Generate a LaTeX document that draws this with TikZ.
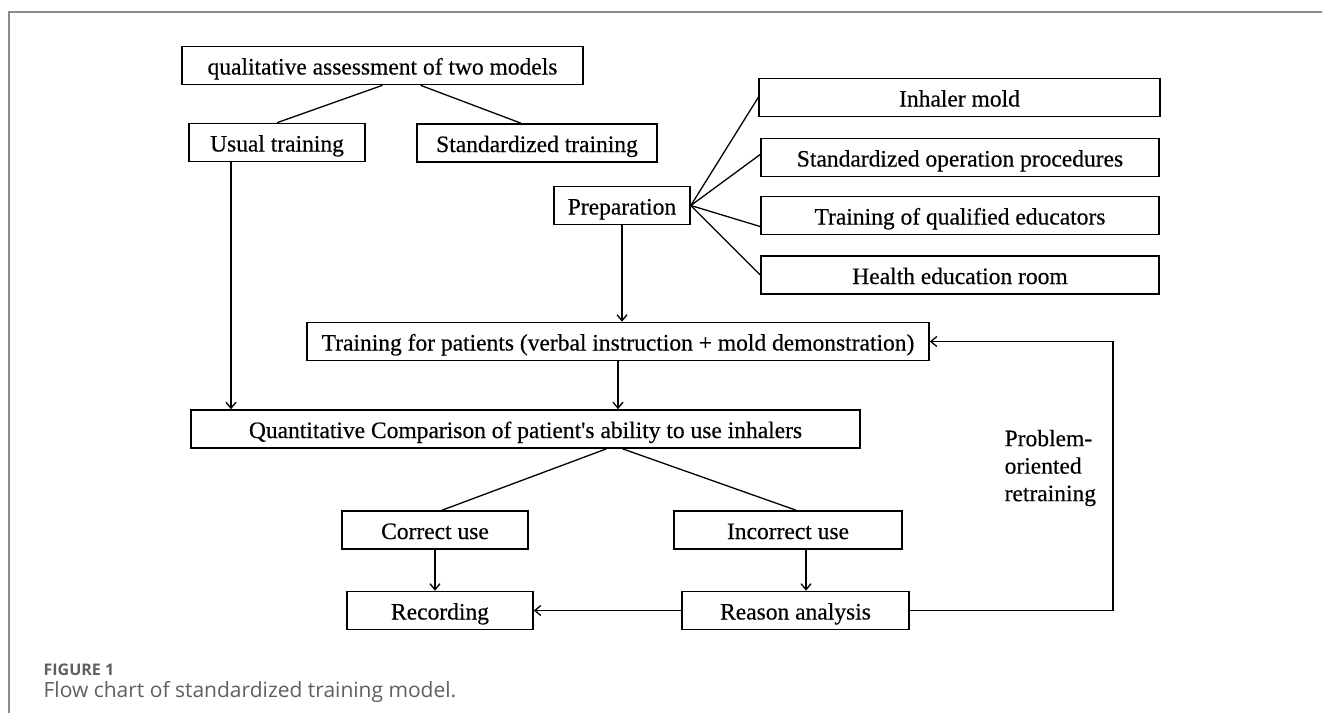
\documentclass[tikz,border=0pt]{standalone}
\usepackage{fontspec}
\setmainfont{Liberation Serif}[FakeBold=0.4]
\newfontfamily\capfont{Open Sans}
\usetikzlibrary{arrows.meta}
\definecolor{framegray}{RGB}{140,140,140}
\definecolor{capgray}{RGB}{95,95,95}

\begin{document}
\begin{tikzpicture}[->,>={Straight Barb[length=6pt,width=10pt]},x=1pt,y=-1pt,
                line width=1.3pt,box node/.style={draw,line width=1.6pt,minimum height=38pt,
                inner sep=0pt,text height=18pt,text depth=0pt,font=\fontsize{23.5}{28}\selectfont}]
  \useasboundingbox (0,0) rectangle (1322,713);
  \draw[-,framegray,line width=1.2pt] (9,713) -- (9,12) -- (1322,12);

  \node[box node,minimum width=401pt] (1) at (382.5,65.5) {qualitative assessment of two models};
  \node[box node,minimum width=176pt] (2) at (277,142.5) {Usual training};
  \node[box node,minimum width=240pt] (3) at (537,143) {Standardized training};
  \node[box node,minimum width=136pt] (4) at (622,205.5) {Preparation};
  \node[box node,minimum width=401pt] (5) at (959.5,97.5) {Inhaler mold};
  \node[box node,minimum width=398pt] (6) at (960,157.5) {Standardized operation procedures};
  \node[box node,minimum width=398pt] (7) at (960,215.5) {Training of qualified educators};
  \node[box node,minimum width=398pt] (8) at (960,275) {Health education room};
  \node[box node,minimum width=622pt] (9) at (618,341.5) {Training for patients (verbal instruction + mold demonstration)};
  \node[box node,minimum width=669pt] (10) at (525.5,429)
    {Quantitative Comparison of patient\textquotesingle s ability to use inhalers};
  \node[box node,minimum width=186pt] (11) at (435,530) {Correct use};
  \node[box node,minimum width=228pt] (12) at (788,530) {Incorrect use};
  \node[box node,minimum width=186pt] (13) at (440,610.5) {Recording};
  \node[box node,minimum width=227pt] (14) at (795.5,610.5) {Reason analysis};
  \node[align=left,anchor=west,inner sep=0pt,font=\fontsize{23.5}{27.5}\selectfont] (15) at (1004,468)
    {Problem-\\oriented\\retraining};
  \coordinate (turn) at (1113,0);

  \node[anchor=west,inner sep=0pt,text=capgray,font=\capfont\bfseries\fontsize{16}{20}\selectfont] (16) at (43,670) {FIGURE 1};
  \node[anchor=west,inner sep=0pt,text=capgray,font=\capfont\fontsize{21}{24}\selectfont] (17) at (43,692)
    {Flow chart of standardized training model.};

  \path
    (1.south) edge[-] (2.north)
    ([xshift=38pt]1.south) edge[-] ([xshift=-16pt]3.north)
    (4.east) edge[-] (5.west)
    (4.east) edge[-] ([yshift=3pt]6.west)
    (4.east) edge[-] ([yshift=-11pt]7.west)
    (4.east) edge[-] (8.west)
    ([xshift=-46pt]2.south) edge ([xshift=-46pt]2.south |- 10.north)
    (4.south) edge (4.south |- 9.north)
    (9.south) edge (9.south |- 10.north)
    ([xshift=81pt]10.south) edge[-] ([xshift=7pt]11.north)
    ([xshift=97pt]10.south) edge[-] ([xshift=8pt]12.north)
    (11.south) edge (11.south |- 13.north)
    ([xshift=18pt]12.south) edge ([xshift=18pt]12.south |- 14.north)
    (14.west) edge (13.east)
  ;
  \draw (14.east) -- (14.east -| turn) -- (9.east -| turn) -- (9.east);
\end{tikzpicture}
\end{document}
